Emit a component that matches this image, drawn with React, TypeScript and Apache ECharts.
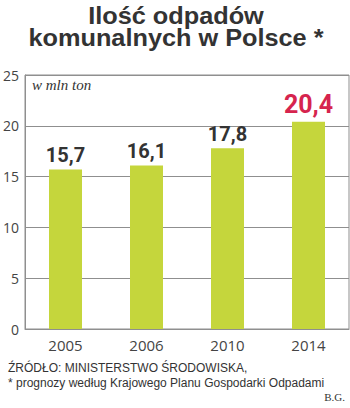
import React, { useEffect, useRef } from "react";
import * as echarts from "echarts";

const titleLines = ["Ilość odpadów", "komunalnych w Polsce *"];
const unitNote = "w mln ton";
const years = ["2005", "2006", "2010", "2014"];
const values = [15.7, 16.1, 17.8, 20.4];
const valueLabels = ["15,7", "16,1", "17,8", "20,4"];
const forecastIndex = 3;
const sourceLine = "ŹRÓDŁO: MINISTERSTWO ŚRODOWISKA,";
const noteLine = "* prognozy według Krajowego Planu Gospodarki Odpadami";
const authorLine = "B.G.";

export default function App() {
  const ref = useRef<HTMLDivElement>(null);
  useEffect(() => {
    document.body.style.margin = "0";
    const chart = echarts.init(ref.current!, null, { renderer: "svg" });
    const data = values.map((v, i) => ({
      value: v,
      label:
        i === forecastIndex
          ? { color: "#d6244e", fontSize: 25, distance: 5 }
          : { color: "#333333", fontSize: 20, distance: 4 },
    }));
    const titleGraphics = titleLines.map((line, i) => ({
      type: "text",
      x: 176,
      y: 16 + i * 22,
      scaleX: 1.1,
      style: {
        text: line,
        font: "bold 23px 'Liberation Sans'",
        fill: "#333333",
        align: "center",
        verticalAlign: "middle",
      },
    }));
    chart.setOption({
      animation: false,
      backgroundColor: "#ffffff",
      grid: {
        left: 24,
        right: 1,
        top: 75,
        bottom: 79,
        show: true,
        borderColor: "#8f8f8f",
        borderWidth: 1,
        containLabel: false,
      },
      xAxis: {
        type: "category",
        data: years,
        axisLine: { show: true, lineStyle: { color: "#8f8f8f" } },
        axisTick: { show: false },
        axisLabel: {
          fontFamily: "Open Sans",
          fontSize: 15,
          color: "#444444",
          margin: 8,
        },
      },
      yAxis: {
        type: "value",
        min: 0,
        max: 25,
        interval: 5,
        axisLine: { show: true, lineStyle: { color: "#8f8f8f" } },
        axisTick: { show: false },
        splitLine: { show: true, lineStyle: { color: "#8f8f8f", width: 1 } },
        axisLabel: {
          fontFamily: "Open Sans",
          fontSize: 14,
          color: "#444444",
          margin: 6,
        },
      },
      series: [
        {
          type: "bar",
          data,
          barWidth: 33,
          itemStyle: { color: "#c5d63c" },
          label: {
            show: true,
            position: "top",
            fontFamily: "Roboto",
            fontWeight: "bold",
            formatter: (p: any) => valueLabels[p.dataIndex],
          },
        },
      ],
      graphic: [
        ...titleGraphics,
        {
          type: "text",
          left: 32,
          top: 77,
          style: {
            text: unitNote,
            font: "italic 15px 'Liberation Serif'",
            fill: "#333333",
          },
        },
        {
          type: "text",
          left: 8,
          top: 362,
          style: {
            text: sourceLine,
            font: "12px 'Liberation Sans'",
            fill: "#333333",
          },
        },
        {
          type: "text",
          left: 8,
          top: 377,
          style: {
            text: noteLine,
            font: "12px 'Liberation Sans'",
            fill: "#333333",
          },
        },
        {
          type: "text",
          right: 5,
          top: 391,
          style: {
            text: authorLine,
            font: "11px 'Liberation Serif'",
            fill: "#333333",
          },
        },
      ],
    });
    return () => chart.dispose();
  }, []);
  return <div ref={ref} style={{ width: 350, height: 408 }} />;
}
